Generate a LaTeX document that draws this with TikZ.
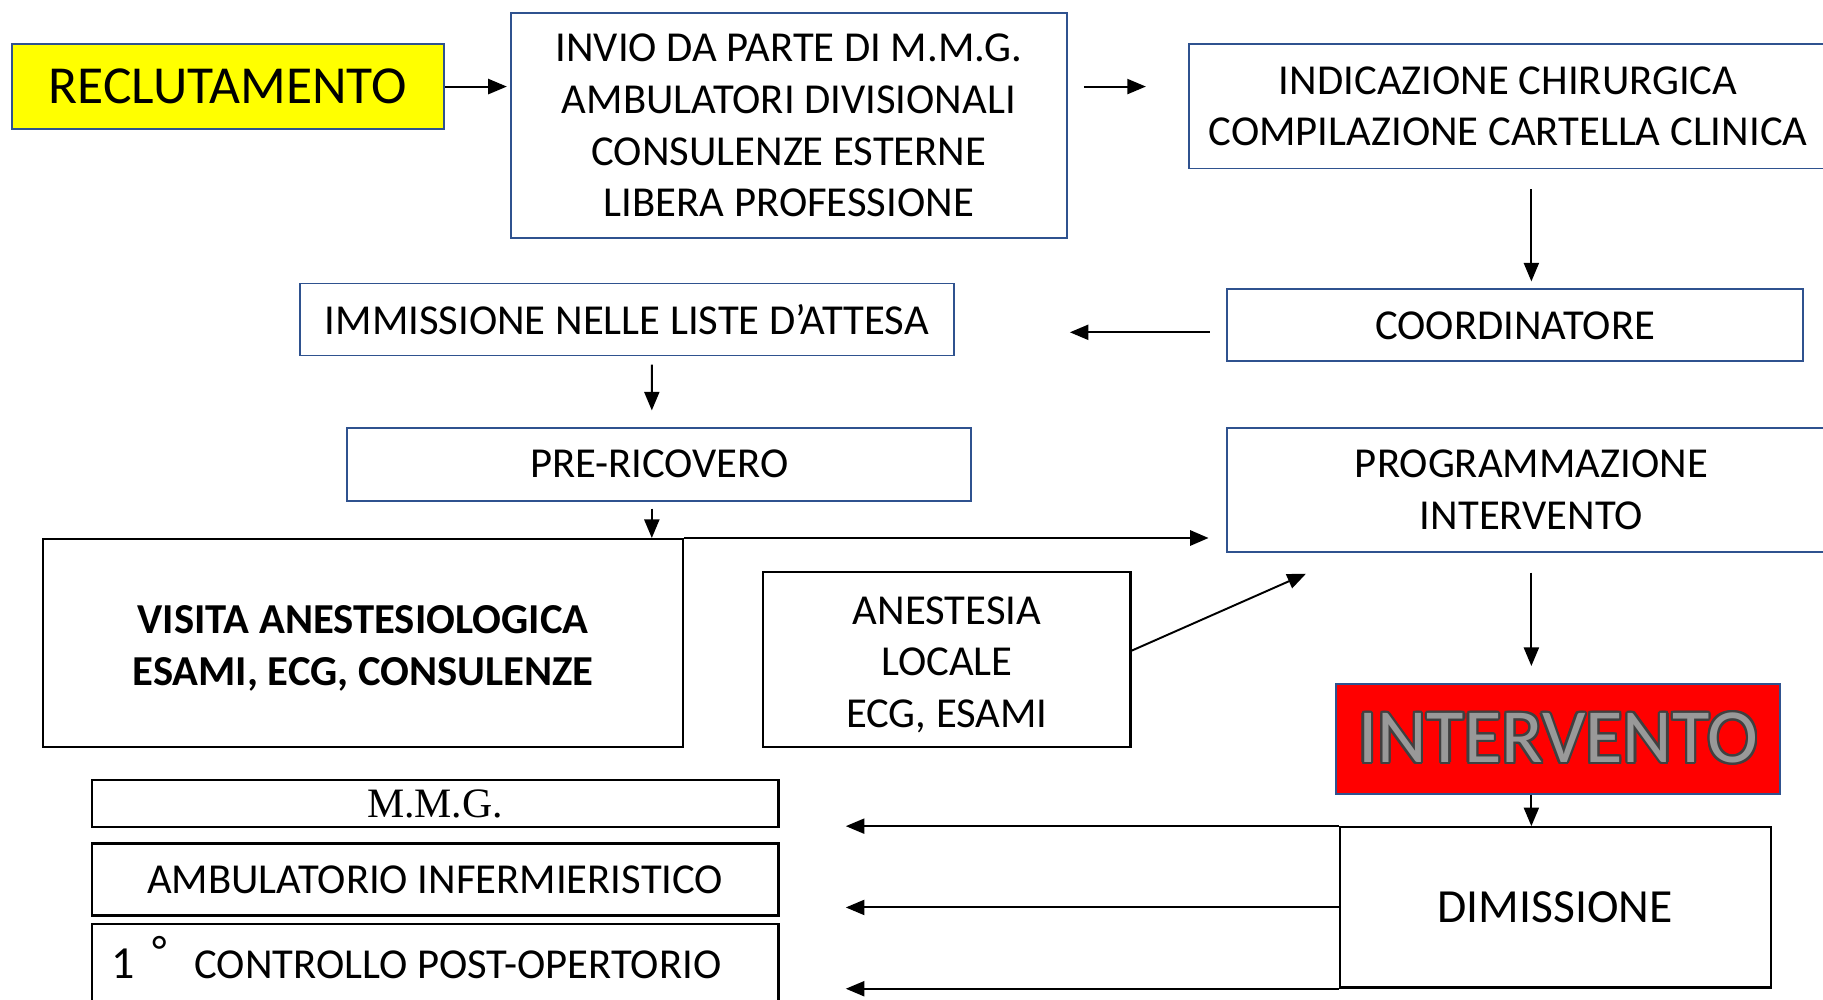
\documentclass[tikz,border=0pt]{standalone}
\usepackage{fontspec}
\setmainfont{Carlito}
\newfontfamily\mmgfont{Liberation Serif}
\usepackage{contour}
\usetikzlibrary{arrows.meta}
\definecolor{boxblue}{HTML}{2F528F}
\definecolor{boxred}{HTML}{FF0000}
\definecolor{boxyellow}{HTML}{FFFF00}
\begin{document}
\contourlength{1.1pt}
\begin{tikzpicture}[align=center,
                    every node/.style={text centered, inner sep=0pt, font=\fontsize{20.9}{25.3}\selectfont},
                    bluebox/.style={draw=boxblue, line width=0.9pt, fill=white},
                    blackbox/.style={draw=black, line width=1.1pt, fill=white},
                    arr/.style={-{Triangle[length=0.32cm,width=0.26cm]}, line width=0.95pt}]
      \useasboundingbox (0,0) rectangle (31.38,-17.2);
      \node[bluebox, fill=boxyellow, minimum width=7.44cm, minimum height=1.46cm,
            font=\fontsize{26.2}{30}\selectfont] (reclutamento) at (3.92,-1.49) {RECLUTAMENTO};
      \node[bluebox, minimum width=9.56cm, minimum height=3.88cm] (invio) at (13.58,-2.16)
            {INVIO DA PARTE DI M.M.G.\\ AMBULATORI DIVISIONALI\\ CONSULENZE ESTERNE\\ LIBERA PROFESSIONE};
      \node[bluebox, minimum width=11cm, minimum height=2.14cm] (indicazione) at (25.96,-1.83)
            {INDICAZIONE CHIRURGICA\\ COMPILAZIONE CARTELLA CLINICA};
      \node[bluebox, minimum width=9.92cm, minimum height=1.24cm] (coordinatore) at (26.08,-5.6) {COORDINATORE};
      \node[bluebox, minimum width=11.26cm, minimum height=1.24cm] (immissione) at (10.79,-5.5)
            {IMMISSIONE NELLE LISTE D’ATTESA};
      \node[bluebox, minimum width=10.74cm, minimum height=1.26cm] (pre_ricovero) at (11.35,-7.99) {PRE-RICOVERO};
      \node[blackbox, minimum width=11.02cm, minimum height=3.58cm] (visita) at (6.25,-11.07) {};
      \node[font=\fontsize{20.9}{25.3}\selectfont\bfseries] (visita_text) at ([yshift=-0.09cm]visita.center)
            {VISITA ANESTESIOLOGICA\\ ESAMI, ECG, CONSULENZE};
      \node[bluebox, minimum width=10.48cm, minimum height=2.14cm] (programmazione) at (26.36,-8.43)
            {PROGRAMMAZIONE\\ INTERVENTO};
      \node[blackbox, minimum width=6.32cm, minimum height=3.02cm] (anestesia) at (16.3,-11.35) {};
      \node (anestesia_text) at ([yshift=-0.09cm]anestesia.center) {ANESTESIA\\ LOCALE\\ ECG, ESAMI};
      \node[bluebox, fill=boxred, minimum width=7.64cm, minimum height=1.88cm,
            font=\fontsize{37.5}{40}\selectfont] (intervento) at (26.82,-12.72)
            {\contour{black!75}{\textcolor{black!40}{INTERVENTO}}};
      \node[blackbox, minimum width=7.42cm, minimum height=2.76cm,
            font=\fontsize{23.3}{28}\selectfont] (dimissione) at (26.77,-15.62) {DIMISSIONE};
      \node[blackbox, minimum width=11.82cm, minimum height=0.82cm, font=\fontsize{20.5}{25}\mmgfont]
            (mmg) at (7.49,-13.83) {M.M.G.};
      \node[blackbox, minimum width=11.82cm, minimum height=1.24cm] (ambulatorio) at (7.49,-15.14)
            {AMBULATORIO INFERMIERISTICO};
      \node[blackbox, minimum width=11.82cm, minimum height=1.4cm] (controllo) at (7.49,-16.6) {};
      \node[anchor=west] (controllo_text) at ([xshift=0.36cm,yshift=0.12cm]controllo.west)
            {{\fontsize{22.5}{25}\selectfont 1}\hspace{0.4em}\raisebox{0.32em}{°}\hspace{0.65em}CONTROLLO POST-OPERTORIO};
      \coordinate (ritorno) at ([xshift=1.14cm]mmg.east);
      \draw[arr] (reclutamento.east) -- ([xshift=-0.06cm]invio.west |- reclutamento.east);
      \draw[arr] ([xshift=0.28cm]invio.east |- reclutamento.east) -- ([xshift=-0.72cm]indicazione.west |- reclutamento.east);
      \draw[arr] ([xshift=0.4cm,yshift=-0.34cm]indicazione.south) -- ([xshift=0.28cm,yshift=0.12cm]coordinatore.north);
      \draw[arr] ([xshift=-0.28cm,yshift=-0.12cm]coordinatore.west) -- ([xshift=1.98cm,yshift=-0.22cm]immissione.east);
      \draw[arr] ([xshift=0.43cm,yshift=-0.14cm]immissione.south) -- ([xshift=-0.13cm,yshift=0.28cm]pre_ricovero.north);
      \draw[arr] ([xshift=-0.13cm,yshift=-0.12cm]pre_ricovero.south) -- ([xshift=-0.13cm]pre_ricovero.south |- visita.north);
      \draw[arr, line width=1.4pt] (visita.north east) -- ([xshift=-0.3cm]programmazione.west |- visita.north);
      \draw[arr] ([yshift=0.15cm]anestesia.east) -- ([xshift=-3.88cm,yshift=-0.36cm]programmazione.south);
      \draw[arr] ([yshift=-0.34cm]programmazione.south) -- ([xshift=-0.46cm,yshift=0.3cm]intervento.north);
      \draw[arr] ([xshift=-0.46cm]intervento.south) -- ([xshift=-0.46cm]intervento.south |- dimissione.north);
      \draw[arr] (dimissione.north west) -- (ritorno |- dimissione.north west);
      \draw[arr] (dimissione.west) -- (ritorno |- dimissione.west);
      \draw[arr] (dimissione.south west) -- (ritorno |- dimissione.south west);
    \end{tikzpicture}
\end{document}
